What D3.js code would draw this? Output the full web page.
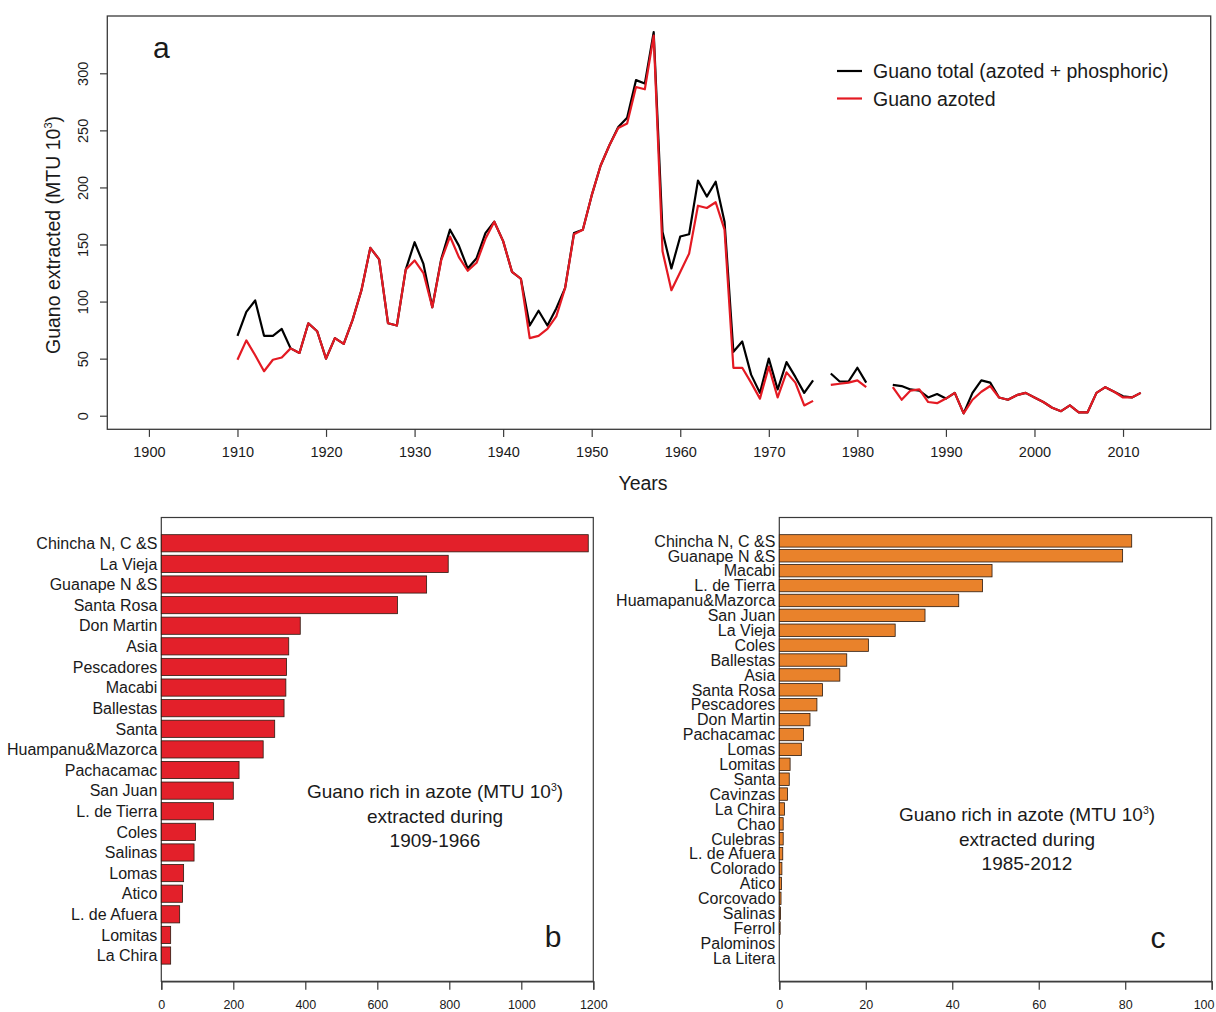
<!DOCTYPE html>
<html>
<head>
<meta charset="utf-8">
<script src="https://cdn.jsdelivr.net/npm/d3@7"></script>
<style>
  html, body { margin: 0; padding: 0; background: #fff; }
  svg { display: block; font-family: "Liberation Sans", Arial, Helvetica, sans-serif; }
</style>
</head>
<body>
<svg id="chart" width="1216" height="1012"></svg>
<script>
// ---------- Panel a data ----------
const years = d3.range(1910, 2013);
const guanoTotal = [
  70, 91, 101, 70, 70, 76, 59, 55, 81, 74,
  50, 68, 63, 84, 110, 147, 137, 81, 79, 128,
  152, 133, 95, 137, 163, 149, 129, 138, 160, 170,
  153, 126, 120, 79, 92, 79, 94, 112, 160, 163,
  193, 219, 237, 253, 261, 294, 291, 336, 161, 129,
  157, 159, 206, 192, 205, 170, 56, 65, 36, 20,
  50, 23, 47, 34, 20, 31, null, 37, 30, 30,
  42, 29, null, null, 27, 26, 23, 22, 16, 19,
  15, 20, 2, 20, 31, 29, 16, 14, 18, 20,
  16, 12, 7, 4, 9, 3, 3, 20, 25, 21,
  17, 16, 20
];
const guanoAzoted = [
  49, 66, 53, 39, 49, 51, 59, 55, 81, 74,
  50, 68, 63, 84, 110, 147, 137, 81, 79, 128,
  136, 125, 95, 136, 157, 139, 127, 134, 155, 170,
  153, 126, 120, 68, 70, 76, 87, 112, 159, 163,
  193, 219, 237, 252, 256, 288, 286, 333, 144, 110,
  126, 142, 184, 182, 187, 163, 42, 42, 29, 15,
  43, 16, 38, 29, 9, 13, null, 27, 28, 29,
  31, 25, null, null, 25, 14, 22, 23, 12, 11,
  15, 20, 2, 14, 21, 26, 16, 14, 18, 20,
  16, 12, 7, 4, 9, 3, 3, 20, 25, 21,
  16, 16, 20
];
const yearTicks = d3.range(1900, 2011, 10);
const valueTicks = d3.range(0, 301, 50);
const seriesNames = ["Guano total (azoted + phosphoric)", "Guano azoted"];

// ---------- Panel b data ----------
const islandsB = ["Chincha N, C &S", "La Vieja", "Guanape N &S", "Santa Rosa", "Don Martin", "Asia",
  "Pescadores", "Macabi", "Ballestas", "Santa", "Huampanu&Mazorca", "Pachacamac", "San Juan",
  "L. de Tierra", "Coles", "Salinas", "Lomas", "Atico", "L. de Afuera", "Lomitas", "La Chira"];
const valuesB = [1186, 797, 737, 656, 386, 354, 348, 346, 341, 315, 283, 216, 200,
  145, 95, 91, 62, 59, 51, 26, 26];
const ticksB = d3.range(0, 1201, 200);

// ---------- Panel c data ----------
const islandsC = ["Chincha N, C &S", "Guanape N &S", "Macabi", "L. de Tierra", "Huamapanu&Mazorca",
  "San Juan", "La Vieja", "Coles", "Ballestas", "Asia", "Santa Rosa", "Pescadores", "Don Martin",
  "Pachacamac", "Lomas", "Lomitas", "Santa", "Cavinzas", "La Chira", "Chao", "Culebras",
  "L. de Afuera", "Colorado", "Atico", "Corcovado", "Salinas", "Ferrol", "Palominos", "La Litera"];
const valuesC = [81.5, 79.4, 49.2, 47.0, 41.5, 33.7, 26.8, 20.6, 15.6, 14.0, 10.0, 8.7, 7.1,
  5.6, 5.1, 2.5, 2.3, 1.9, 1.2, 0.9, 0.9, 0.8, 0.6, 0.5, 0.4, 0.3, 0.2, 0, 0];
const ticksC = d3.range(0, 101, 20);

// ---------- styles ----------
const ink = "#1a1a1a";
const frame = "#3a3a3a";
const redLine = "#e41a23";
const redBar = "#e3202a";
const orangeBar = "#e9822b";

const svg = d3.select("#chart");
svg.append("rect").attr("width", 1216).attr("height", 1012).attr("fill", "#fff");

// ================= Panel a =================
const xA = d3.scaleLinear().domain([1895.3, 2019.9]).range([107.3, 1210.7]);
const yA = d3.scaleLinear().domain([-11.9, 350.2]).range([429.3, 16]);
const gA = svg.append("g");

gA.append("rect")
  .attr("x", xA.range()[0]).attr("y", yA.range()[1])
  .attr("width", xA.range()[1] - xA.range()[0])
  .attr("height", yA.range()[0] - yA.range()[1])
  .attr("fill", "none").attr("stroke", frame).attr("stroke-width", 1.3);

const axA = gA.append("g")
  .attr("transform", `translate(0,${yA.range()[0]})`)
  .call(d3.axisBottom(xA).tickValues(yearTicks).tickSize(7.6).tickPadding(10).tickFormat(d3.format("d")));
axA.select(".domain").remove();
axA.selectAll("line").attr("stroke", frame).attr("stroke-width", 1.2);
axA.selectAll("text").attr("font-size", 14.5).attr("fill", ink).attr("font-family", null);

const ayA = gA.append("g")
  .attr("transform", `translate(${xA.range()[0]},0)`)
  .call(d3.axisLeft(yA).tickValues(valueTicks).tickSize(7.3).tickFormat(d3.format("d")));
ayA.select(".domain").remove();
ayA.selectAll("line").attr("stroke", frame).attr("stroke-width", 1.2);
ayA.selectAll("text")
  .attr("font-size", 14.5).attr("fill", ink).attr("font-family", null)
  .attr("text-anchor", "middle").attr("dy", 0).attr("x", 0)
  .attr("transform", "translate(-19.3,0) rotate(-90)");

// axis titles
gA.append("text")
  .attr("transform", "translate(60,235) rotate(-90)")
  .attr("text-anchor", "middle").attr("font-size", 19.5).attr("fill", ink)
  .call(t => {
    t.append("tspan").text("Guano extracted (MTU 10");
    t.append("tspan").attr("font-size", 11).attr("dy", -8).text("3");
    t.append("tspan").attr("dy", 8).text(")");
  });
gA.append("text").attr("x", 643).attr("y", 490).attr("text-anchor", "middle")
  .attr("font-size", 19.5).attr("fill", ink).text("Years");

// lines
const rowsTotal = years.map((yr, i) => ({ yr, v: guanoTotal[i] }));
const rowsAzot = years.map((yr, i) => ({ yr, v: guanoAzoted[i] }));
const lineGen = d3.line().defined(d => d.v !== null).x(d => xA(d.yr)).y(d => yA(d.v));
gA.append("path").datum(rowsTotal).attr("d", lineGen)
  .attr("fill", "none").attr("stroke", "#000").attr("stroke-width", 2.2).attr("stroke-linejoin", "round");
gA.append("path").datum(rowsAzot).attr("d", lineGen)
  .attr("fill", "none").attr("stroke", redLine).attr("stroke-width", 2.2).attr("stroke-linejoin", "round");

// legend
const legA = gA.append("g");
[["#000", 71], [redLine, 98.5]].forEach(([c, yy], i) => {
  legA.append("line").attr("x1", 837).attr("x2", 862).attr("y1", yy).attr("y2", yy)
    .attr("stroke", c).attr("stroke-width", 2.2);
  legA.append("text").attr("x", 873).attr("y", yy + 7).attr("font-size", 19.5).attr("fill", ink)
    .text(seriesNames[i]);
});

gA.append("text").attr("x", 153).attr("y", 58).attr("font-size", 30).attr("fill", ink).text("a");

// ================= Bar panels =================
function barPanel(cats, vals, ticks, xRange, color, letter, letterPos, notePos, period) {
  const n = cats.length;
  const x = d3.scaleLinear().domain([0, ticks[ticks.length - 1]]).range(xRange);
  const ext = 0.04 * (1.2 * n - 0.2);
  const y = d3.scaleBand().domain(cats).range([517.5, 981.3])
    .paddingInner(0.2 / 1.2).paddingOuter(ext / 1.2);
  const g = svg.append("g");

  g.append("rect")
    .attr("x", xRange[0]).attr("y", 517.5)
    .attr("width", xRange[1] - xRange[0]).attr("height", 981.3 - 517.5)
    .attr("fill", "none").attr("stroke", frame).attr("stroke-width", 1.2);

  g.selectAll("rect.bar").data(cats).join("rect").attr("class", "bar")
    .attr("x", x(0)).attr("y", d => y(d))
    .attr("width", (d, i) => x(vals[i]) - x(0))
    .attr("height", y.bandwidth())
    .attr("fill", color)
    .attr("stroke", (d, i) => vals[i] > 0 ? "#2a1a10" : "none")
    .attr("stroke-width", 0.8);

  g.selectAll("text.cat").data(cats).join("text").attr("class", "cat")
    .attr("x", x(0) - 4).attr("y", d => y(d) + y.bandwidth() / 2)
    .attr("dy", "0.36em").attr("text-anchor", "end")
    .attr("font-size", 16).attr("fill", ink).text(d => d);

  const ax = g.append("g").attr("transform", "translate(0,981.3)")
    .call(d3.axisBottom(x).tickValues(ticks).tickSize(8.5).tickPadding(10.5).tickFormat(d3.format("d")));
  ax.select(".domain").attr("stroke", frame).attr("stroke-width", 1.2);
  ax.selectAll("line").attr("stroke", frame).attr("stroke-width", 1.2);
  ax.selectAll("text").attr("font-size", 12.5).attr("fill", ink).attr("font-family", null);
  // keep the last tick label inside the page
  ax.selectAll("text").filter(d => x(d) + 14 > 1214)
    .attr("text-anchor", "end").attr("x", d => 1214 - x(d));

  const note = g.append("text").attr("text-anchor", "middle").attr("font-size", 19).attr("fill", ink);
  const l1 = note.append("tspan").attr("x", notePos[0]).attr("y", notePos[1]);
  l1.append("tspan").text("Guano rich in azote (MTU 10");
  l1.append("tspan").attr("font-size", 10.5).attr("dy", -7).text("3");
  l1.append("tspan").attr("dy", 7).text(")");
  note.append("tspan").attr("x", notePos[0]).attr("y", notePos[1] + 24.5).text("extracted during");
  note.append("tspan").attr("x", notePos[0]).attr("y", notePos[1] + 49).text(period);

  g.append("text").attr("x", letterPos[0]).attr("y", letterPos[1]).attr("text-anchor", "middle")
    .attr("font-size", 30).attr("fill", ink).text(letter);
}

barPanel(islandsB, valuesB, ticksB, [161.3, 593.3], redBar, "b", [553, 947], [435, 798], "1909-1966");
barPanel(islandsC, valuesC, ticksC, [779.3, 1211.7], orangeBar, "c", [1158, 948], [1027, 821], "1985-2012");
</script>
</body>
</html>
